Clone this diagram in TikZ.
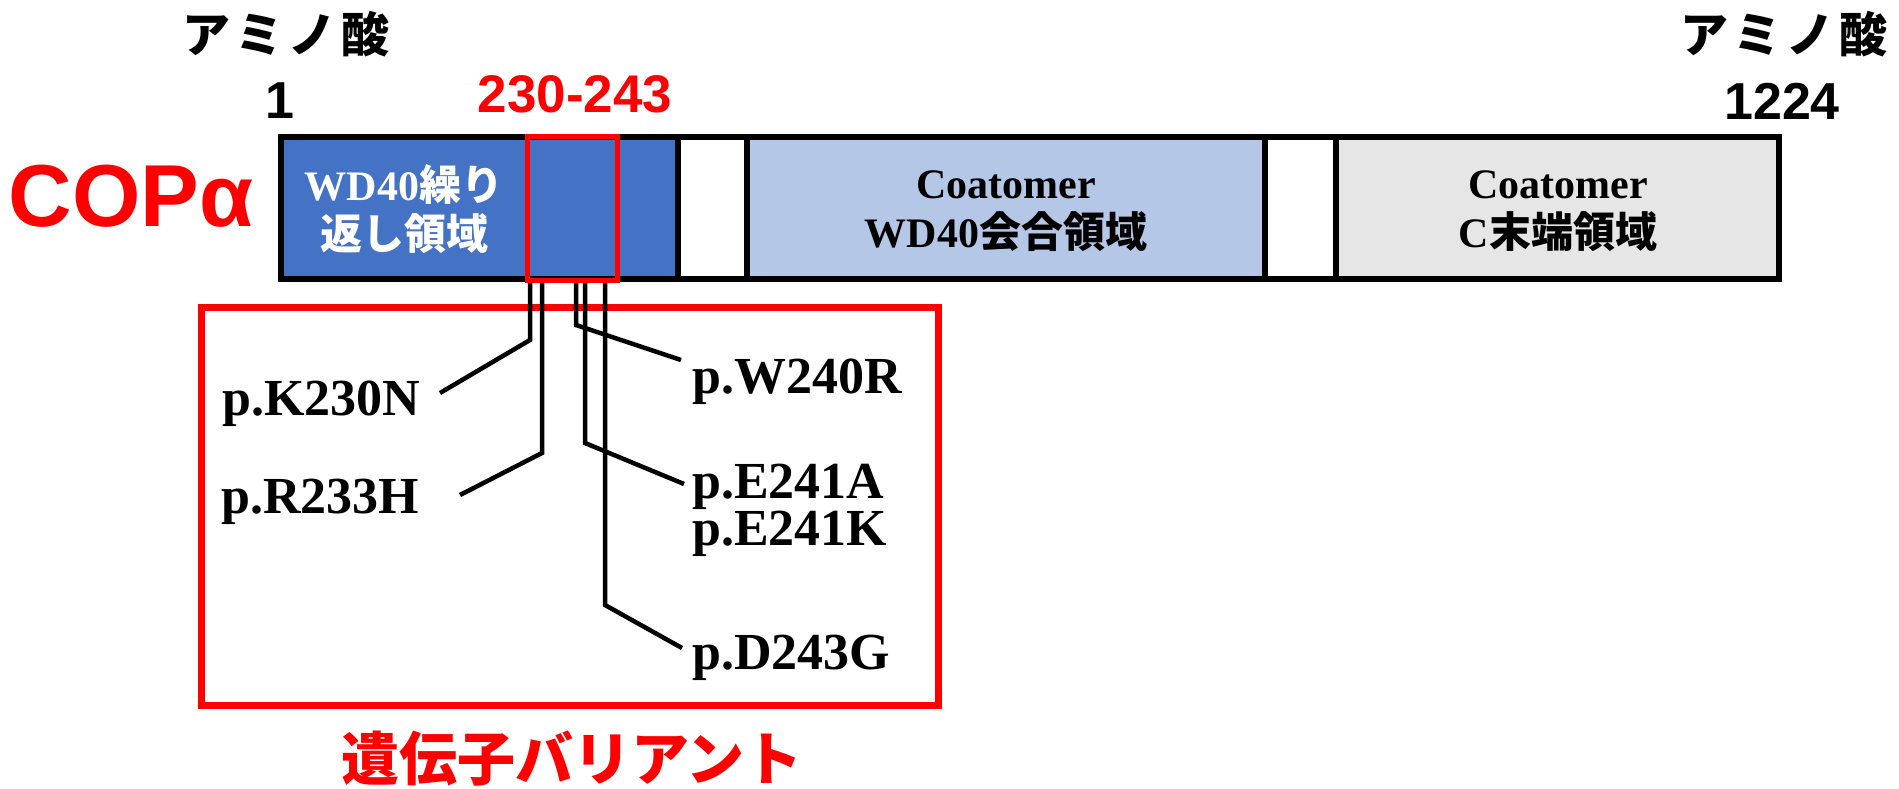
\documentclass[tikz,border=0pt]{standalone}
\usepackage{fontspec}
\setmainfont{Liberation Serif}
\newfontfamily\cjk{Noto Sans CJK JP}
\newfontfamily\ari{Liberation Sans}
\definecolor{dblue}{HTML}{4472C4}
\definecolor{lblue}{HTML}{B4C7E7}
\definecolor{lgray}{HTML}{E7E6E6}
\definecolor{vred}{HTML}{FF0000}
\tikzset{
  dom/.style={draw=black, line width=6pt, inner sep=0pt, minimum height=142pt},
  lbl/.style={font=\fontsize{52}{60}\selectfont\bfseries, anchor=base west, inner sep=0pt},
  dtxt/.style={font=\fontsize{42}{49}\selectfont\bfseries, anchor=base, inner sep=0pt},
  ttl/.style={font=\fontsize{48}{56}\selectfont\bfseries\cjk, inner sep=0pt},
  num/.style={font=\fontsize{52}{60}\selectfont\bfseries\ari, inner sep=0pt},
  conn/.style={line width=4.5pt},
}
\begin{document}
\begin{tikzpicture}[x=1pt,y=-1pt]
\useasboundingbox (0,0) rectangle (1899,788);
% domains
\node[dom, fill=dblue, minimum width=397pt] (d1) at (479.5,208) {};
\node[dom, fill=white, minimum width=69pt] (d2) at (712.5,208) {};
\node[dom, fill=lblue, minimum width=518pt] (d3) at (1006,208) {};
\node[dom, fill=white, minimum width=71pt] (d4) at (1300.5,208) {};
\node[dom, fill=lgray, minimum width=443pt] (d5) at (1557.5,208) {};
% highlight
\node[draw=vred, line width=5pt, inner sep=0pt, minimum width=90pt, minimum height=144pt] (hl) at (572.5,208.5) {};
% variant box
\node[draw=vred, line width=7pt, inner sep=0pt, minimum width=737pt, minimum height=397.5pt] (var) at (569.5,506.25) {};
% headings
\node[ttl] (ami1) at (286,34.5) {ア\hspace{5pt}ミ\hspace{5pt}ノ\hspace{5pt}酸};
\node[ttl] (ami2) at (1784,34.5) {ア\hspace{5pt}ミ\hspace{5pt}ノ\hspace{5pt}酸};
\node[num] (n1) at (280,101) {1};
\node[num] (n1224) at (1782,101) {1224};
\node[num, text=vred, font=\fontsize{53}{60}\selectfont\bfseries\ari] (rng) at (575,94) {230-243};
\node[text=vred, font=\fontsize{88}{96}\selectfont\bfseries\ari, inner sep=0pt] (cop) at (131,196.5) {COPα};
% domain texts
\node[dtxt, text=white] (t1a) at (404,200) {WD40{\cjk 繰り}};
\node[dtxt, text=white] (t1b) at (404,249) {\cjk 返し領域};
\node[dtxt] (t3a) at (1006,198) {Coatomer};
\node[dtxt] (t3b) at (1006,247) {WD40{\cjk 会合領域}};
\node[dtxt] (t5a) at (1558,198) {Coatomer};
\node[dtxt] (t5b) at (1558,247) {C{\cjk 末端領域}};
% variant labels
\node[lbl] (k230) at (222,415) {p.K230N};
\node[lbl] (r233) at (221,513) {p.R233H};
\node[lbl] (w240) at (692,393) {p.W240R};
\node[lbl] (e241a) at (692,498) {p.E241A};
\node[lbl] (e241k) at (692,545) {p.E241K};
\node[lbl] (d243) at (692,669) {p.D243G};
\node[text=vred, font=\fontsize{58}{66}\selectfont\bfseries\cjk, inner sep=0pt] (vt) at (572,759) {遺伝子バリアント};
% connectors
\coordinate (kb) at (530,340); \coordinate (ke) at (440,393);
\coordinate (rb) at (542,453); \coordinate (re) at (460,495);
\coordinate (wb) at (576,325); \coordinate (we) at (681,360);
\coordinate (eb) at (585,443); \coordinate (ee) at (684,484);
\coordinate (db) at (605,605); \coordinate (de) at (682,648);
\draw[conn] (hl.south -| kb) -- (kb) -- (ke);
\draw[conn] (hl.south -| rb) -- (rb) -- (re);
\draw[conn] (hl.south -| wb) -- (wb) -- (we);
\draw[conn] (hl.south -| eb) -- (eb) -- (ee);
\draw[conn] (hl.south -| db) -- (db) -- (de);
\end{tikzpicture}
\end{document}
